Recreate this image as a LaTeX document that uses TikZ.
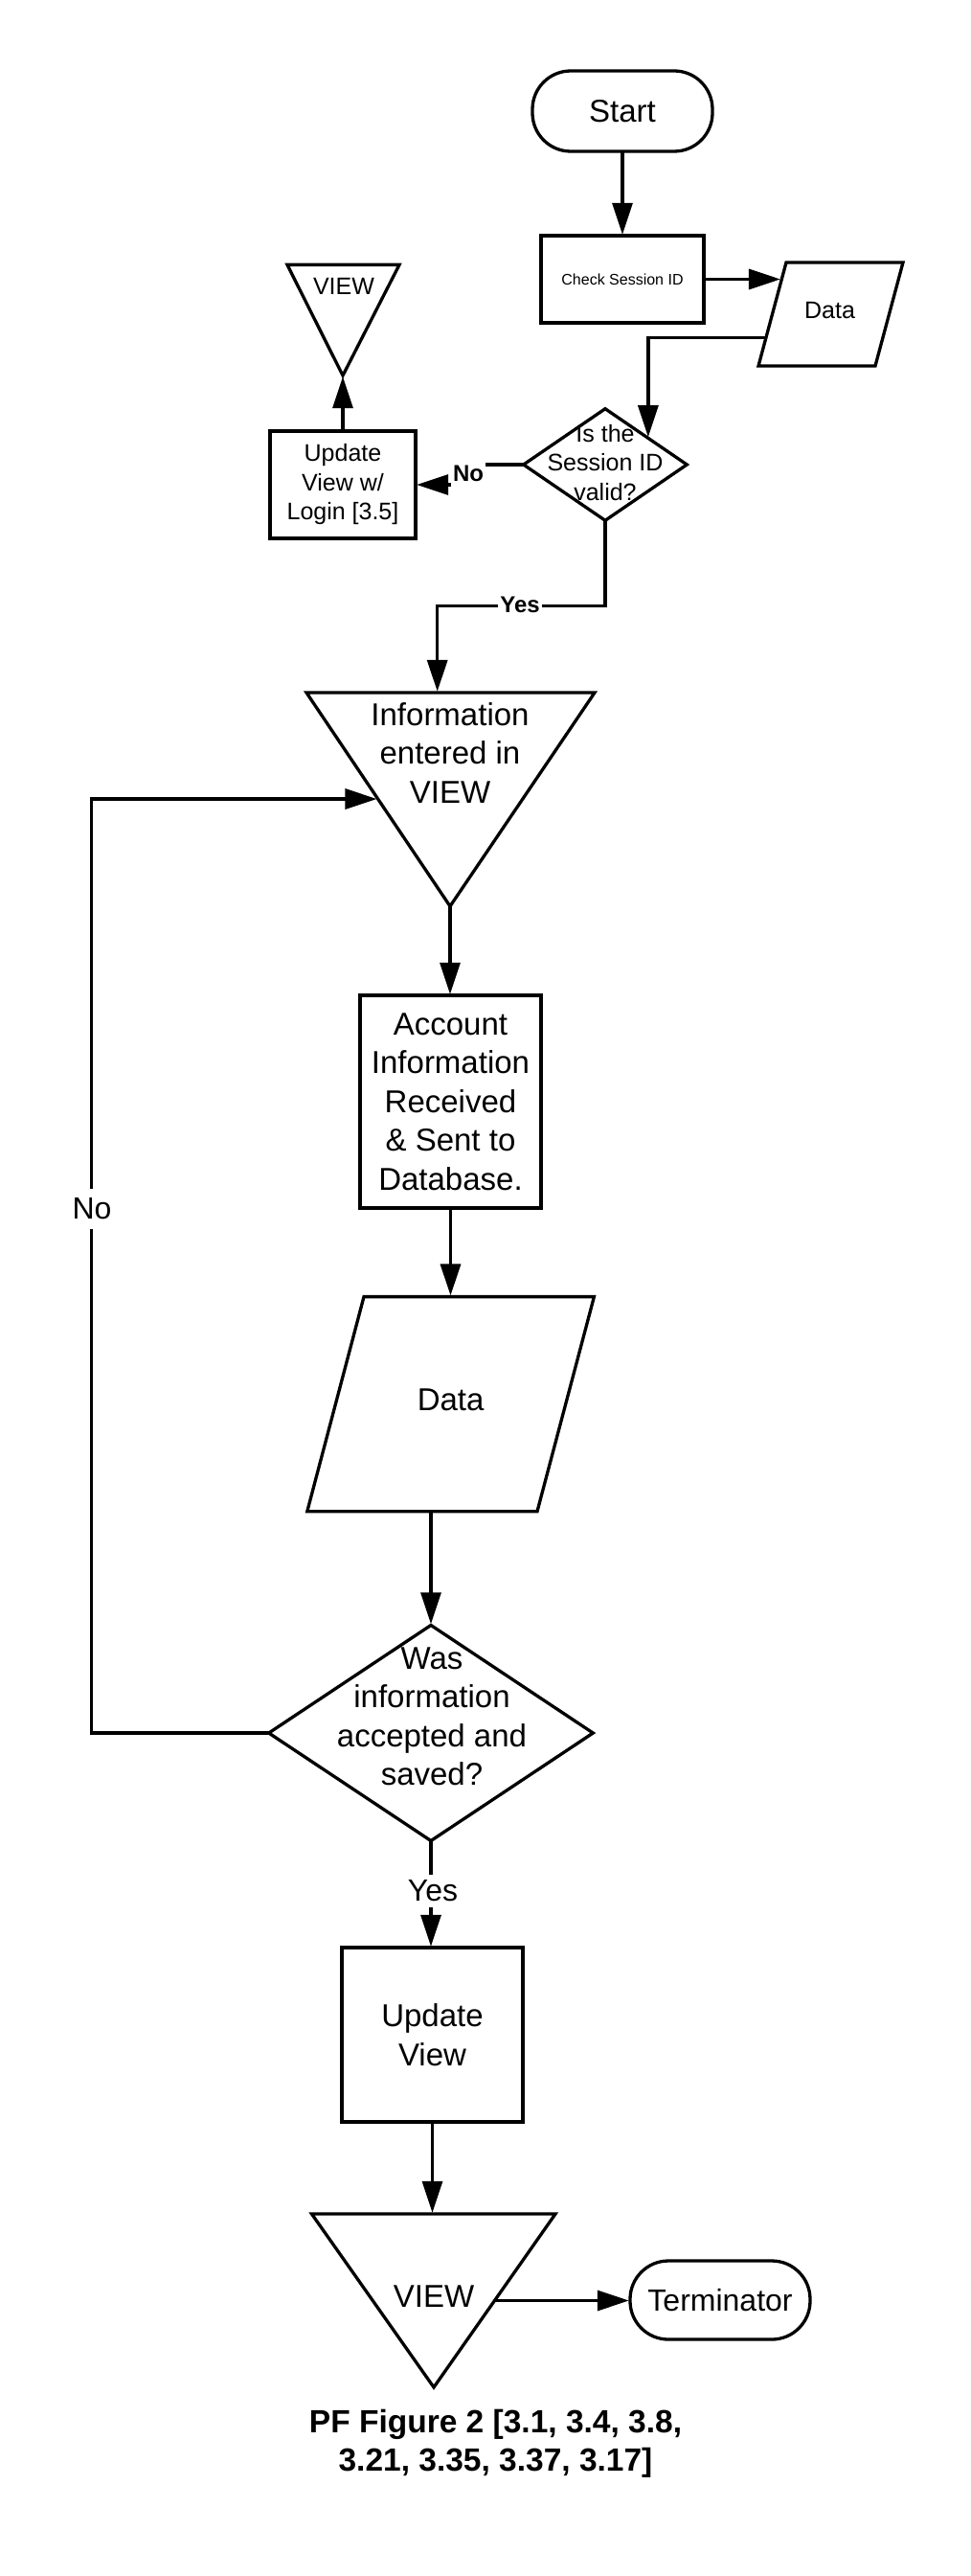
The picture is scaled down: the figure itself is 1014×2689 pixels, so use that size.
\documentclass[tikz,border=0pt]{standalone}
\usepackage{fontspec}
\setmainfont{Liberation Sans}
\usetikzlibrary{arrows.meta,shapes.geometric,calc}
\tikzset{
  ln/.style={line width=3.3pt},
  arr/.style={ln,-{Triangle[length=33pt,width=21pt]},shorten >=1.2pt},
  box/.style={draw,ln,rectangle,inner sep=0pt,outer sep=0pt,align=center},
  termbox/.style={box,rounded corners=40pt},
  dia/.style={draw,ln,diamond,inner sep=0pt,outer sep=0pt},
  txt/.style={inner sep=0pt,align=center},
  fBig/.style={font=\fontsize{33}{40.5}\selectfont},
  fSm/.style={font=\fontsize{25}{30.5}\selectfont},
  fTiny/.style={font=\fontsize{16}{19}\selectfont},
  fLab/.style={font=\bfseries\fontsize{24}{28}\selectfont},
  lab/.style={fill=white,inner xsep=2pt,inner ysep=0pt,align=center},
}
\begin{document}
\begin{tikzpicture}[x=1pt,y=-1pt]
\useasboundingbox (0,0) rectangle (1014,2689);
\fill[white] (0,0) rectangle (1014,2689);

% ---- top part
\node[termbox,minimum width=188pt,minimum height=84pt,fBig] (start) at (650,116) {Start};
\node[box,minimum width=170pt,minimum height=91pt,fTiny] (check) at (650,291.5) {Check Session ID};

\coordinate (dsTL) at (821,274);
\coordinate (dsTR) at (943,274);
\coordinate (dsBR) at (914,382);
\coordinate (dsBL) at (792,382);
\draw[ln] (dsTL) -- (dsTR) -- (dsBR) -- (dsBL) -- cycle;
\node[txt,fSm] (dsT) at (866.5,324) {Data};
\coordinate (dsIn) at ($(dsTL)!0.167!(dsBL)$);
\coordinate (dsOut) at ($(dsTL)!0.727!(dsBL)$);

\node[dia,minimum width=170.6pt,minimum height=116.6pt] (d1) at (632,485) {};
\node[txt,fSm] (d1t) at (632,483) {Is the\\Session ID\\valid?};
\coordinate (d1in) at ($(d1.north)!0.526!(d1.east)$);

\node[box,minimum width=152pt,minimum height=112pt,fSm] (up1) at (358,506) {Update\\View w/\\Login [3.5]};

\coordinate (v1L) at (300,276.4);
\coordinate (v1R) at (417,276.4);
\coordinate (v1A) at (358,392);
\draw[ln] (v1L) -- (v1R) -- (v1A) -- cycle;
\node[txt,fSm] (v1t) at (359,299) {VIEW};

\draw[arr] (start.south) -- (check.north);
\draw[arr] (check.east) -- (check.east -| dsIn);
\draw[arr] (dsOut) -| (d1in);
\coordinate (nobend) at (490,485);
\draw[arr] (d1.west) -- (nobend) |- (up1.east);
\node[lab,fLab,minimum height=30pt] (nolab) at (489,494) {No};
\draw[arr] (up1.north) -- (v1A);

% ---- information triangle
\coordinate (itL) at (320,723);
\coordinate (itR) at (621,723);
\coordinate (itA) at (470,946);
\draw[ln] (itL) -- (itR) -- (itA) -- cycle;
\node[txt,fBig] (itT) at (470,786) {Information\\entered in\\VIEW};
\coordinate (itIn) at (456.7,723);
\coordinate (itLoop) at ($(itL)!0.4978!(itA)$);

\coordinate (y1b) at (456.7,632.7);
\draw[arr] (d1.south) |- (y1b) -- (itIn);
\node[lab,fLab,minimum height=24pt] (yes1) at (543,631) {Yes};

% ---- account box
\node[box,minimum width=189pt,minimum height=222pt,fBig] (acc) at (470.5,1150) {Account\\Information\\Received\\\& Sent to\\Database.};
\draw[arr] (itA) -- (itA |- acc.north);

% ---- data big
\coordinate (dbTL) at (380,1353.6);
\coordinate (dbTR) at (620.4,1353.6);
\coordinate (dbBR) at (561,1577.7);
\coordinate (dbBL) at (320.8,1577.7);
\draw[ln] (dbTL) -- (dbTR) -- (dbBR) -- (dbBL) -- cycle;
\node[txt,fBig] (dbT) at (470.6,1461.6) {Data};
\draw[arr] (acc.south) -- (acc.south |- dbTL);

% ---- decision 2
\node[dia,minimum width=338.6pt,minimum height=225pt] (d2) at (450,1809) {};
\node[txt,fBig] (d2t) at (451,1792) {Was\\information\\accepted and\\saved?};
\coordinate (dbOut) at (450,1577.7);
\draw[arr] (dbOut) -- (d2.north);

\coordinate (lp1) at (95.7,1809);
\draw[arr] (d2.west) -- (lp1) |- (itLoop);
\node[lab,font=\fontsize{32}{38}\selectfont,minimum height=42pt] (no2) at (96,1262) {No};

% ---- update view
\node[box,minimum width=189pt,minimum height=182pt,fBig] (up2) at (451.5,2124) {Update\\View};
\draw[arr] (d2.south) -- (d2.south |- up2.north);
\node[lab,font=\fontsize{32}{38}\selectfont,minimum height=34pt] (yes2) at (452,1974) {Yes};

% ---- final view
\coordinate (v2L) at (325.5,2311);
\coordinate (v2R) at (580,2311);
\coordinate (v2A) at (453,2492);
\draw[ln] (v2L) -- (v2R) -- (v2A) -- cycle;
\node[txt,fBig] (v2t) at (453,2397) {VIEW};
\draw[arr] (up2.south) -- (up2.south |- v2L);
\coordinate (v2out) at ($(v2R)!0.5!(v2A)$);

\node[termbox,minimum width=188pt,minimum height=82pt,font=\fontsize{32}{38}\selectfont] (term) at (752,2401) {Terminator};
\draw[arr] (v2out) -- (v2out -| term.west);

\node[txt,font=\bfseries\fontsize{33.5}{40}\selectfont] (cap) at (517.5,2551) {PF Figure 2 [3.1, 3.4, 3.8,\\3.21, 3.35, 3.37, 3.17]};
\end{tikzpicture}
\end{document}
